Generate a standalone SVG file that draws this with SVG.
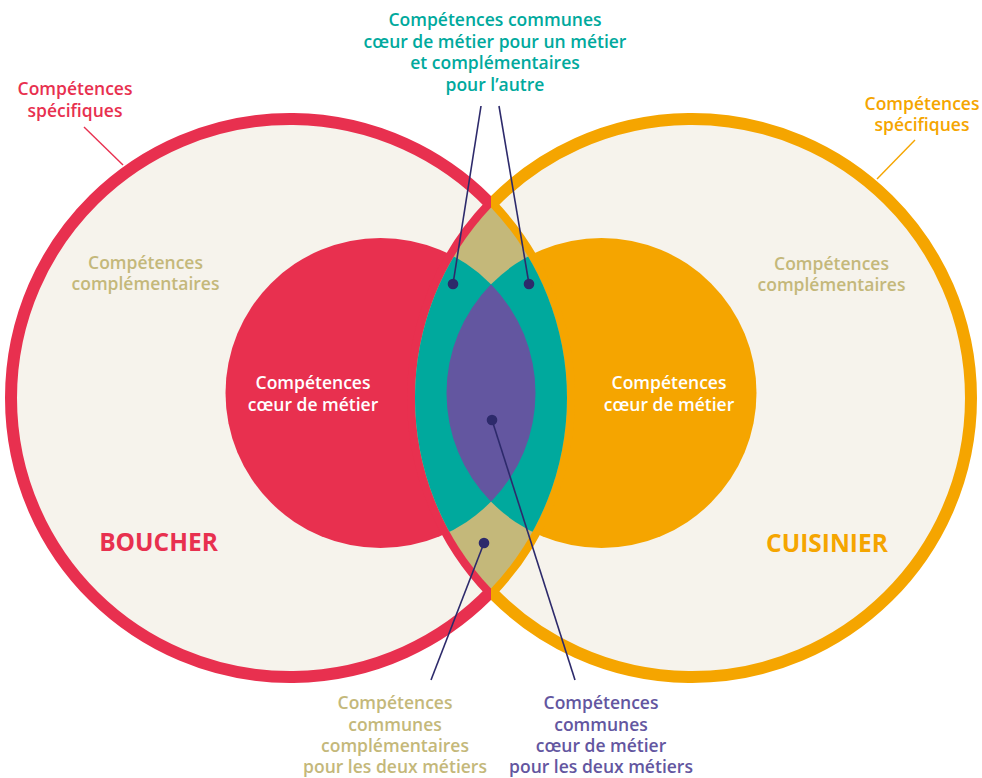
<svg xmlns="http://www.w3.org/2000/svg" width="982" height="778" viewBox="0 0 982 778">
  <defs>
    <style>
      text { font-family: "Open Sans", "Noto Sans", "Liberation Sans", sans-serif; font-weight: 600; font-size: 17.5px; text-anchor: middle; }
      .t-red { fill: #E8304F; }
      .t-orange { fill: #F5A500; }
      .t-teal { fill: #00A99D; }
      .t-khaki { fill: #C4B87A; }
      .t-purple { fill: #6356A0; }
      .t-white { fill: #FFFFFF; }
      .title { font-size: 24.5px; font-weight: 700; }
      .ring { fill: none; stroke-width: 12; stroke-linejoin: miter; stroke-miterlimit: 10; }
      .leader { stroke: #2D2A6B; stroke-width: 1.6; fill: none; }
      .leader-red { stroke: #E8304F; stroke-width: 1.4; }
      .leader-orange { stroke: #F5A500; stroke-width: 1.4; }
      .dot { fill: #2D2A6B; }
    </style>
    <clipPath id="half-left"><rect x="0" y="0" width="491" height="778"/></clipPath>
    <clipPath id="half-right"><rect x="491" y="0" width="491" height="778"/></clipPath>
    <!-- intersection of the two big circles -->
    <clipPath id="lens-clip">
      <path d="M491 207.4 A277 277 0 0 1 491 588.6 A277 277 0 0 1 491 207.4 Z"/>
    </clipPath>
  </defs>

  <rect x="0" y="0" width="982" height="778" fill="#FFFFFF"/>

  <!-- big circle fills -->
  <g id="fills">
    <circle cx="290" cy="398" r="280" fill="#F6F3EC"/>
    <circle cx="692" cy="398" r="280" fill="#F6F3EC"/>
  </g>

  <!-- core-skill circles -->
  <g id="coeur-boucher">
    <circle cx="380.5" cy="393" r="155" fill="#E8304F"/>
  </g>
  <g id="coeur-cuisinier">
    <circle cx="601.5" cy="393" r="155" fill="#F5A500"/>
  </g>

  <!-- crescent outlines of each job -->
  <g id="boucher">
    <path class="ring" stroke="#E8304F" clip-path="url(#half-left)"
          d="M491 204.5 A279 279 0 1 0 491 591.5 A279 279 0 0 1 491 204.5 Z"/>
  </g>
  <g id="cuisinier">
    <path class="ring" stroke="#F5A500" clip-path="url(#half-right)"
          d="M491 204.5 A279 279 0 1 1 491 591.5 A279 279 0 0 0 491 204.5 Z"/>
  </g>

  <!-- shared area -->
  <g id="commun">
    <path fill="#C4B87A" d="M491 207.4 A277 277 0 0 1 491 588.6 A277 277 0 0 1 491 207.4 Z"/>
    <g clip-path="url(#lens-clip)">
      <circle cx="380.5" cy="393" r="155" fill="#00A99D"/>
      <circle cx="601.5" cy="393" r="155" fill="#00A99D"/>
    </g>
    <path fill="#6356A0" d="M491 284.3 A155 155 0 0 1 491 501.7 A155 155 0 0 1 491 284.3 Z"/>
  </g>

  <!-- connectors -->
  <g id="connectors">
    <line class="leader leader-red" x1="84" y1="127" x2="123" y2="165"/>
    <line class="leader leader-orange" x1="915" y1="140" x2="877" y2="179"/>
    <line class="leader" x1="481" y1="106" x2="453" y2="284"/>
    <line class="leader" x1="499" y1="106" x2="529" y2="284"/>
    <line class="leader" x1="492" y1="420" x2="575" y2="680"/>
    <line class="leader" x1="484" y1="543" x2="431" y2="680"/>
    <circle class="dot" cx="453" cy="284" r="5.3"/>
    <circle class="dot" cx="529" cy="284" r="5.3"/>
    <circle class="dot" cx="492" cy="420" r="5.3"/>
    <circle class="dot" cx="484" cy="543" r="5.3"/>
  </g>

  <!-- labels -->
  <g id="label-specifiques-boucher">
    <text class="t-red" x="75" y="95">Compétences</text>
    <text class="t-red" x="75" y="116.5">spécifiques</text>
  </g>
  <g id="label-specifiques-cuisinier">
    <text class="t-orange" x="922" y="109.5">Compétences</text>
    <text class="t-orange" x="922" y="131">spécifiques</text>
  </g>
  <g id="label-communes-haut">
    <text class="t-teal" x="495" y="26">Compétences communes</text>
    <text class="t-teal" x="495" y="47.5">cœur de métier pour un métier</text>
    <text class="t-teal" x="495" y="69">et complémentaires</text>
    <text class="t-teal" x="495" y="90.5">pour l’autre</text>
  </g>
  <g id="label-complementaires-boucher">
    <text class="t-khaki" x="145.5" y="269">Compétences</text>
    <text class="t-khaki" x="145.5" y="290">complémentaires</text>
  </g>
  <g id="label-complementaires-cuisinier">
    <text class="t-khaki" x="831.5" y="270">Compétences</text>
    <text class="t-khaki" x="831.5" y="291">complémentaires</text>
  </g>
  <g id="label-coeur-boucher">
    <text class="t-white" x="313" y="389">Compétences</text>
    <text class="t-white" x="313" y="411">cœur de métier</text>
  </g>
  <g id="label-coeur-cuisinier">
    <text class="t-white" x="669" y="389">Compétences</text>
    <text class="t-white" x="669" y="411">cœur de métier</text>
  </g>
  <g id="titre-boucher">
    <text class="t-red title" x="158.5" y="551">BOUCHER</text>
  </g>
  <g id="titre-cuisinier">
    <text class="t-orange title" x="827" y="552">CUISINIER</text>
  </g>
  <g id="label-communes-complementaires">
    <text class="t-khaki" x="395" y="709">Compétences</text>
    <text class="t-khaki" x="395" y="730.5">communes</text>
    <text class="t-khaki" x="395" y="752">complémentaires</text>
    <text class="t-khaki" x="395" y="773">pour les deux métiers</text>
  </g>
  <g id="label-communes-coeur">
    <text class="t-purple" x="601" y="709">Compétences</text>
    <text class="t-purple" x="601" y="730.5">communes</text>
    <text class="t-purple" x="601" y="752">cœur de métier</text>
    <text class="t-purple" x="601" y="773">pour les deux métiers</text>
  </g>
</svg>
